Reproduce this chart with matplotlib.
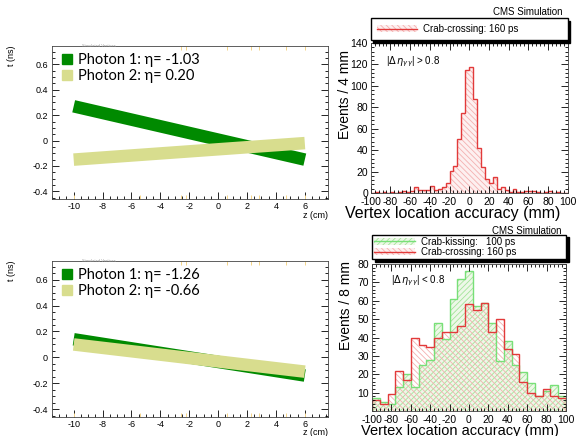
import matplotlib
matplotlib.use("Agg")
import matplotlib.pyplot as plt
import numpy as np
from matplotlib.lines import Line2D
from matplotlib.patches import Patch
from matplotlib.ticker import MultipleLocator, FuncFormatter

plt.rcParams['font.family'] = ['Liberation Sans', 'DejaVu Sans']
plt.rcParams['axes.unicode_minus'] = False
plt.rcParams['hatch.linewidth'] = 0.6

# --- left panels: photon arrival-time bands ---
band_z = [-10, 6]
top_photon1_t = [0.27, -0.15]
top_photon2_t = [-0.15, -0.02]
bot_photon1_t = [0.14, -0.14]
bot_photon2_t = [0.10, -0.11]
top_labels = ["Photon 1: η= -1.03", "Photon 2: η= 0.20"]
bot_labels = ["Photon 1: η= -1.26", "Photon 2: η= -0.66"]
vertex_z = [-10.0, -5.4, -2.6, -2.2, 0.6, 2.3, 2.8, 4.7, 6.0]

# --- right panels: vertex location accuracy ---
edges_4mm = np.arange(-100, 101, 4)
crab_crossing_far = [0, 1, 0, 1, 0, 1, 0, 1, 2, 1,
                     2, 6, 3, 3, 3, 7, 3, 4, 6, 9,
                     21, 25, 50, 75, 115, 118, 88, 42, 24, 13,
                     9, 15, 4, 6, 3, 1, 4, 1, 1, 2,
                     2, 2, 1, 0, 1, 2, 0, 1, 0, 0]
edges_8mm = np.arange(-100, 101, 8)
crab_kissing_near = [7, 5, 4, 13, 20, 13, 25, 28, 48, 39, 61, 72, 76,
                     57, 59, 48, 27, 38, 25, 21, 15, 8, 11, 14, 8]
crab_crossing_near = [6, 4, 9, 22, 17, 40, 36, 35, 40, 43, 43, 46, 58,
                      55, 59, 43, 50, 34, 31, 16, 10, 8, 12, 8, 7]

dark_green = '#008a00'
khaki = '#d8dd8e'
red = '#e23a3a'
pink = '#f4b0b0'
pink_fill = '#fdf0f0'
light_green = '#78e078'
green_hatch = '#a3e499'
green_fill = '#eef8e8'

fig = plt.figure(figsize=(5.76, 4.36), dpi=100)


def band_panel(ax, t1, t2, labels, zlabel_y):
    ax.plot(band_z, t1, color=dark_green, lw=9, solid_capstyle='butt')
    ax.plot(band_z, t2, color=khaki, lw=9, solid_capstyle='butt')
    tr = ax.get_xaxis_transform()
    ax.vlines(vertex_z, 0, 0.025, transform=tr, color='#f4d488', lw=0.7)
    ax.vlines(vertex_z[2:], 0.975, 1.0, transform=tr, color='#f4d488', lw=0.7)
    ax.set_xlim(-11.5, 7.6)
    ax.set_ylim(-0.46, 0.745)
    ax.xaxis.set_major_locator(MultipleLocator(2))
    ax.xaxis.set_minor_locator(MultipleLocator(0.5))
    ax.yaxis.set_major_locator(MultipleLocator(0.2))
    ax.yaxis.set_minor_locator(MultipleLocator(0.05))
    ax.yaxis.set_major_formatter(FuncFormatter(lambda v, p: f"{round(v, 2):g}" if abs(v) > 1e-9 else "0"))
    ax.tick_params(which='both', direction='in', left=True, right=True,
                   top=False, labelsize=6.5, pad=3, width=0.6)
    ax.tick_params(axis='x', pad=2)
    ax.tick_params(which='major', length=5)
    ax.tick_params(which='minor', length=2.5)
    for s in ax.spines.values():
        s.set_linewidth(0.6)
        s.set_color('#444444')
    ax.set_ylabel("t (ns)", fontsize=6.5, loc='top')
    ax.yaxis.set_label_coords(-0.13, 1.0)
    ax.set_xlabel("z (cm)", fontsize=6.5, loc='right')
    ax.xaxis.set_label_coords(1.0, zlabel_y)
    ax.text(0.11, 1.0, "Simulated Vertices", transform=ax.transAxes,
            fontsize=3, color='#999999', va='center')
    handles = [Line2D([], [], marker='s', ls='none', color=dark_green, markersize=6.5),
               Line2D([], [], marker='s', ls='none', color=khaki, markersize=6.5)]
    ax.legend(handles, labels, loc='upper left', frameon=False,
              prop={'family': ['Lato', 'DejaVu Sans'], 'size': 10.5},
              handletextpad=0.3, labelspacing=0.1, borderaxespad=0.2,
              handlelength=1.0, borderpad=0.3)


ax_tl = fig.add_axes([0.0903, 0.5436, 0.479, 0.351])
band_panel(ax_tl, top_photon1_t, top_photon2_t, top_labels, -0.08)
ax_bl = fig.add_axes([0.0903, 0.0436, 0.479, 0.358])
band_panel(ax_bl, bot_photon1_t, bot_photon2_t, bot_labels, -0.068)


def hist_axes(ax, ymax, ymajor, yminor):
    ax.set_xlim(-100, 100)
    ax.set_ylim(0, ymax)
    ax.xaxis.set_major_locator(MultipleLocator(20))
    ax.xaxis.set_minor_locator(MultipleLocator(4))
    ax.yaxis.set_major_locator(MultipleLocator(ymajor))
    ax.yaxis.set_minor_locator(MultipleLocator(yminor))
    ax.tick_params(which='both', direction='in', left=True, right=True,
                   top=True, bottom=True, labelsize=7.5, pad=2, width=0.6)
    ax.tick_params(axis='x', pad=3)
    ax.tick_params(which='major', length=5)
    ax.tick_params(which='minor', length=2.5)
    for s in ax.spines.values():
        s.set_linewidth(0.6)
        s.set_color('#444444')


# top right: |delta eta| > 0.8
ax_tr = fig.add_axes([0.6436, 0.5573, 0.342, 0.344])
ax_tr.stairs(crab_crossing_far, edges_4mm, fill=True, facecolor=pink_fill,
             edgecolor=pink, hatch='\\\\\\\\\\\\', lw=0)
ax_tr.stairs(crab_crossing_far, edges_4mm, color=red, lw=1)
hist_axes(ax_tr, 140, 20, 4)
ax_tr.set_ylabel("Events / 4 mm", fontsize=10, loc='top')
ax_tr.yaxis.set_label_coords(-0.095, 0.955)
ax_tr.set_xlabel("Vertex location accuracy (mm)", fontsize=11.5, loc='right')
ax_tr.xaxis.set_label_coords(0.961, -0.085)
ax_tr.text(0.076, 0.873, r"|$\Delta\,\eta_{\gamma\gamma}$| > 0.8",
           transform=ax_tr.transAxes, fontsize=7, va='center')
ax_tr.text(0.975, 1.19, "CMS Simulation", transform=ax_tr.transAxes,
           fontsize=7, ha='right', va='baseline')
h_red = (Patch(facecolor=pink_fill, edgecolor=pink, hatch='\\\\\\\\\\\\', lw=0),
         Line2D([], [], color=red, lw=1))
ax_tr.legend([h_red], ["Crab-crossing: 160 ps"], loc='lower left',
             bbox_to_anchor=(0, 1.02, 1, 0.15), mode='expand', borderaxespad=0,
             fancybox=False, edgecolor='black', framealpha=1,
             shadow={'color': 'black', 'alpha': 1}, fontsize=7,
             handlelength=4.2, handletextpad=0.6, borderpad=0.6)

# bottom right: |delta eta| < 0.8
ax_br = fig.add_axes([0.6458, 0.0573, 0.3368, 0.3372])
ax_br.stairs(crab_kissing_near, edges_8mm, fill=True, facecolor=green_fill,
             edgecolor=green_hatch, hatch='//////', lw=0)
ax_br.stairs(crab_crossing_near, edges_8mm, fill=True, facecolor='none',
             edgecolor=pink, hatch='\\\\\\\\\\\\', lw=0)
ax_br.stairs(crab_kissing_near, edges_8mm, color=light_green, lw=1)
ax_br.stairs(crab_crossing_near, edges_8mm, color=red, lw=1)
hist_axes(ax_br, 80, 10, 2)
ax_br.set_yticks(np.arange(10, 81, 10))
ax_br.set_ylabel("Events / 8 mm", fontsize=10, loc='top')
ax_br.yaxis.set_label_coords(-0.1, 1.02)
ax_br.set_xlabel("Vertex location accuracy (mm)", fontsize=10.5, loc='right')
ax_br.xaxis.set_label_coords(0.961, -0.088)
ax_br.text(0.10, 0.884, r"|$\Delta\,\eta_{\gamma\gamma}$| < 0.8",
           transform=ax_br.transAxes, fontsize=7, va='center')
ax_br.text(0.978, 1.204, "CMS Simulation", transform=ax_br.transAxes,
           fontsize=7, ha='right', va='baseline')
h_green = (Patch(facecolor=green_fill, edgecolor=green_hatch, hatch='//////', lw=0),
           Line2D([], [], color=light_green, lw=1))
ax_br.legend([h_green, h_red], ["Crab-kissing:   100 ps", "Crab-crossing: 160 ps"],
             loc='lower left', bbox_to_anchor=(0, 1.034, 1, 0.15), mode='expand',
             borderaxespad=0, fancybox=False, edgecolor='black', framealpha=1,
             shadow={'color': 'black', 'alpha': 1}, fontsize=7,
             handlelength=4.2, handletextpad=0.6, borderpad=0.2, labelspacing=0.05)

fig.savefig("out.png", dpi=100)
